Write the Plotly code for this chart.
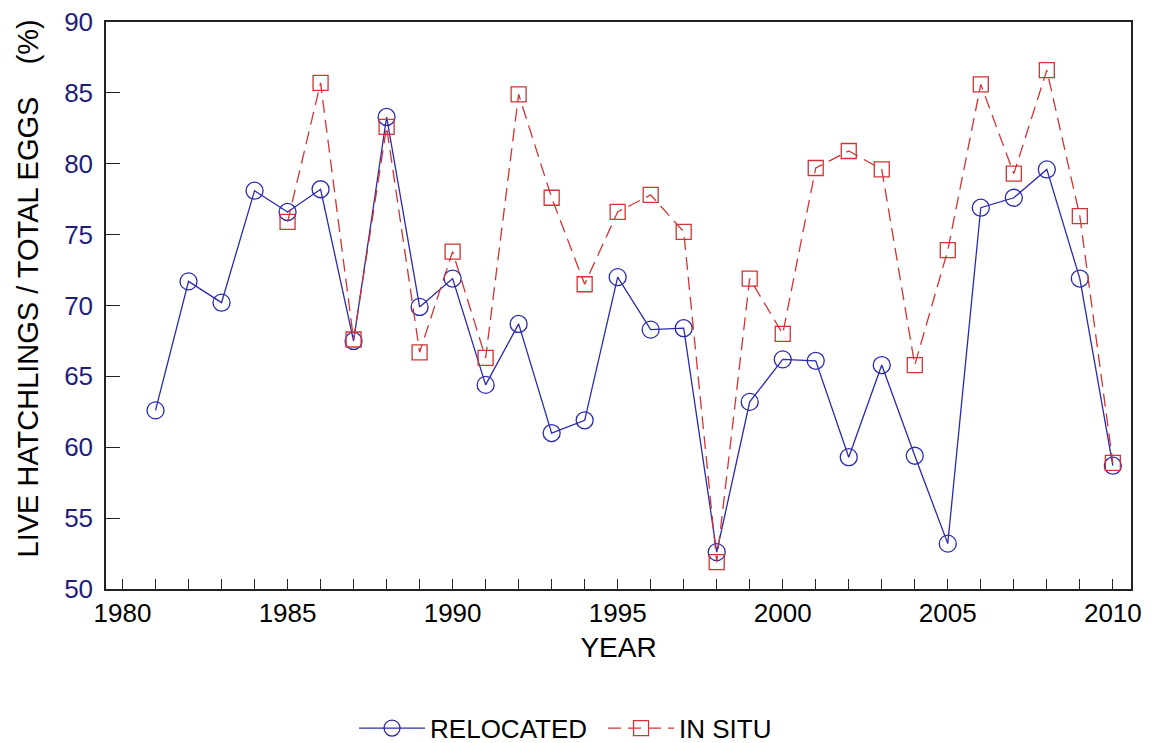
import plotly.graph_objects as go

years_relocated = list(range(1981, 2011))
relocated = [62.6, 71.7, 70.2, 78.1, 76.6, 78.2, 67.5, 83.3, 69.9, 71.9,
             64.4, 68.7, 61.0, 61.9, 72.0, 68.3, 68.4, 52.6, 63.2, 66.2,
             66.1, 59.3, 65.8, 59.4, 53.2, 76.9, 77.6, 79.6, 71.9, 58.7]

years_insitu = list(range(1985, 2011))
insitu = [75.9, 85.7, 67.6, 82.6, 66.7, 73.8, 66.3, 84.9, 77.6, 71.5,
          76.6, 77.8, 75.2, 51.9, 71.9, 68.0, 79.7, 80.9, 79.6, 65.8,
          73.9, 85.6, 79.3, 86.6, 76.3, 58.9]

x_tickvals = list(range(1980, 2011))
x_ticktext = [str(v) if v % 5 == 0 else "" for v in x_tickvals]
y_tickvals = [50, 55, 60, 65, 70, 75, 80, 85, 90]

BLUE = "#2a2aae"
RED = "#d03434"
FONT = "Arial, Liberation Sans, sans-serif"

fig = go.Figure()
fig.add_trace(go.Scatter(
    x=years_relocated, y=relocated, name="RELOCATED", mode="lines+markers",
    line=dict(color=BLUE, width=1.3),
    marker=dict(symbol="circle-open", size=17, color=BLUE, line=dict(width=1.3, color=BLUE)),
))
fig.add_trace(go.Scatter(
    x=years_insitu, y=insitu, name="IN SITU", mode="lines+markers",
    line=dict(color=RED, width=1.3, dash="13px,7px"),
    marker=dict(symbol="square-open", size=15, color=RED, line=dict(width=1.3, color=RED)),
))

fig.update_layout(
    width=1153, height=743,
    margin=dict(l=106, r=22, t=22, b=154, autoexpand=False),
    paper_bgcolor="white", plot_bgcolor="white",
    font=dict(family=FONT, size=26, color="black"),
    showlegend=True,
    legend=dict(orientation="h", x=0.242, xanchor="left", yref="container", y=0.02, yanchor="middle",
                font=dict(size=26, color="black"), itemwidth=66,
                entrywidth=168, entrywidthmode="pixels", bgcolor="rgba(0,0,0,0)"),
    annotations=[dict(
        text="LIVE HATCHLINGS / TOTAL EGGS\u00a0\u00a0\u00a0\u00a0(%)",
        xref="paper", yref="paper", x=-0.0761, y=0.53, xanchor="center", yanchor="middle",
        textangle=-90, showarrow=False, font=dict(size=29, color="black"),
    )],
)
fig.update_xaxes(
    range=[1979.5, 2010.55], tickmode="array", tickvals=x_tickvals, ticktext=x_ticktext,
    ticks="inside", ticklen=10, tickwidth=1.3, tickcolor="#222",
    showline=True, linecolor="#222", linewidth=1.5, mirror=True,
    showgrid=False, zeroline=False, automargin=False,
    tickfont=dict(size=26, color="black"),
    title=dict(text="YEAR", font=dict(size=28, color="black"), standoff=10),
)
fig.update_yaxes(
    range=[50, 90], tickmode="array", tickvals=y_tickvals,
    ticks="inside", ticklen=14, tickwidth=1.3, tickcolor="#222",
    showline=True, linecolor="#222", linewidth=1.5, mirror=True,
    showgrid=False, zeroline=False, automargin=False, ticklabelstandoff=6,
    tickfont=dict(size=26, color="#1e1e7a"),
)

fig.write_html("out.html", config={"displayModeBar": False},
               post_script="document.body.style.margin='0';")
